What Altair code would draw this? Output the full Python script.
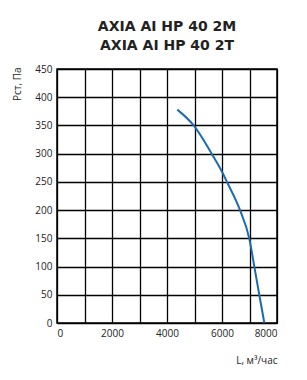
import altair as alt
import pandas as pd

flow = [4375, 4970, 5625, 6000, 6200, 6655, 6990, 7175, 7355, 7540]
pressure = [378, 350, 300, 268, 248, 200, 150, 100, 50, 0]

df = pd.DataFrame({"L": flow, "P": pressure})

x_ticks = [0, 1000, 2000, 3000, 4000, 5000, 6000, 7000, 8000]
y_ticks = [0, 50, 100, 150, 200, 250, 300, 350, 400, 450]

chart = alt.Chart(df).mark_line(color="#1c6bb0", strokeWidth=2, interpolate="monotone").encode(
    x=alt.X("L:Q", scale=alt.Scale(domain=[0, 8000], nice=False),
            axis=alt.Axis(values=x_ticks, title="L, м³/час", format="d",
                          labelExpr="datum.value % 2000 == 0 ? format(datum.value, 'd') : ''",
                          titleX=220, titleY=40, titleAlign="right", titleBaseline="alphabetic")),
    y=alt.Y("P:Q", scale=alt.Scale(domain=[0, 450], nice=False),
            axis=alt.Axis(values=y_ticks, title="Pст, Па",
                          titleX=-35, titleY=-2, titleAlign="right", titleBaseline="bottom", titleAngle=-90)),
).properties(
    width=220, height=254,
    title=alt.Title(["AXIA AI HP 40 2M", "AXIA AI HP 40 2T"], fontSize=14, font="DejaVu Sans",
                    fontWeight="bold", color="#222222", offset=11, lineHeight=19, anchor="middle"),
    autosize=alt.AutoSizeParams(type="none"),
    padding={"left": 57, "top": 69, "right": 30, "bottom": 57},
).configure_view(
    stroke="black", strokeWidth=1.5
).configure_axis(
    grid=True, gridColor="black", gridOpacity=1, gridWidth=1.3,
    domain=False, ticks=False, labelPadding=5,
    labelFont="Open Sans", labelFontSize=10, labelColor="#222222",
    titleFont="Open Sans", titleFontSize=10, titleFontWeight="normal", titleColor="#222222",
)

chart.save("out.html", embed_options={"renderer": "svg", "actions": False})
